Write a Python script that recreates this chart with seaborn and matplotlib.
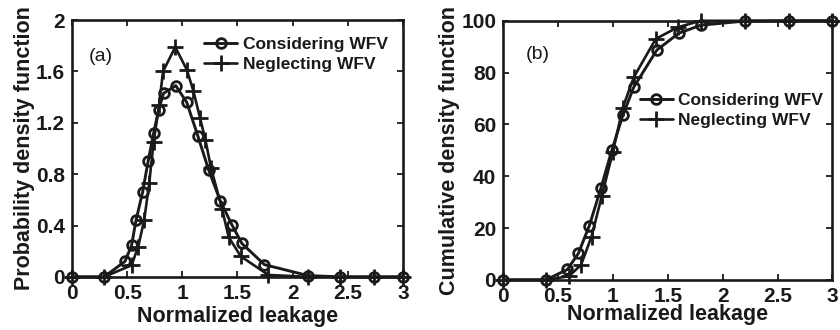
import numpy as np
import pandas as pd
import seaborn as sns
from matplotlib import pyplot as plt

# panel (a): probability density function
pdf_x_cons = [0, 0.29, 0.48, 0.54, 0.58, 0.64, 0.69, 0.74, 0.785, 0.83, 0.94, 1.04,
              1.14, 1.24, 1.345, 1.45, 1.54, 1.745, 2.14, 2.43, 2.74, 3.0]
pdf_y_cons = [0, 0, 0.12, 0.245, 0.44, 0.66, 0.9, 1.12, 1.30, 1.43, 1.49, 1.36,
              1.10, 0.83, 0.59, 0.405, 0.26, 0.095, 0.01, 0, 0, 0]
pdf_x_negl = [0, 0.29, 0.54, 0.60, 0.655, 0.70, 0.74, 0.79, 0.825, 0.936, 1.04, 1.10,
              1.16, 1.21, 1.26, 1.36, 1.42, 1.53, 1.78, 2.14, 2.43, 2.74, 3.0]
pdf_y_negl = [0, 0, 0.09, 0.235, 0.445, 0.73, 1.05, 1.34, 1.60, 1.79, 1.615, 1.45,
              1.24, 1.065, 0.85, 0.53, 0.31, 0.16, 0.015, 0, 0, 0, 0]

# panel (b): cumulative density function
cdf_x_cons = [0, 0.39, 0.585, 0.685, 0.785, 0.89, 0.99, 1.09, 1.19, 1.40, 1.60, 1.80,
              2.20, 2.60, 3.0]
cdf_y_cons = [0, 0, 4, 10.2, 20.9, 35.3, 50, 63.5, 74.4, 88.7, 95.2, 98.3,
              99.9, 100, 100]
cdf_x_negl = [0, 0.39, 0.60, 0.71, 0.805, 0.90, 1.0, 1.09, 1.19, 1.39, 1.59, 1.80,
              2.20, 2.60, 3.0]
cdf_y_negl = [0, 0, 1.4, 5.8, 16.7, 32.5, 49.5, 66.5, 78.2, 93, 97.5, 100,
              100, 100, 100]

x_ticks = [0, 0.5, 1, 1.5, 2, 2.5, 3]
pdf_ticks = [0, 0.4, 0.8, 1.2, 1.6, 2]
cdf_ticks = [0, 20, 40, 60, 80, 100]

ink = '#1a1a1a'


def draw_panel(ax, xc, yc, xn, yn, ylabel, yticks, ymax, tag, tag_pos, leg_pos, xpad):
    cons = pd.DataFrame({'x': xc, 'y': yc})
    negl = pd.DataFrame({'x': xn, 'y': yn})
    sns.lineplot(data=cons, x='x', y='y', ax=ax, color=ink, lw=2.1,
                 marker='o', ms=7, mfc='none', mec=ink, mew=2.0,
                 label='Considering WFV', clip_on=False, zorder=3)
    sns.lineplot(data=negl, x='x', y='y', ax=ax, color=ink, lw=1.9,
                 marker='+', ms=12, mec=ink, mew=2.0,
                 label='Neglecting WFV', clip_on=False, zorder=3)
    ax.set_xlim(0, 3)
    ax.set_ylim(0, ymax)
    ax.set_xticks(x_ticks, ['%g' % v for v in x_ticks],
                  fontsize=15, fontweight='heavy', color=ink)
    ax.set_yticks(yticks, ['%g' % v for v in yticks],
                  fontsize=15, fontweight='heavy', color=ink)
    ax.tick_params(direction='in', top=True, right=True, length=4, width=1.3,
                   color=ink, pad=5)
    for sp in ax.spines.values():
        sp.set_visible(True)
        sp.set_linewidth(1.9)
        sp.set_color(ink)
    ax.set_xlabel('Normalized leakage', fontsize=15.5, fontweight='bold', color=ink, labelpad=xpad)
    ax.set_ylabel(ylabel, fontsize=15.5, fontweight='bold', color=ink, labelpad=1)
    ax.text(tag_pos[0], tag_pos[1], tag, transform=ax.transAxes, fontsize=14,
            fontweight='normal', color=ink, va='center', ha='left')
    ax.legend(loc='upper left', bbox_to_anchor=leg_pos, frameon=False,
              borderpad=0, borderaxespad=0, handlelength=1.9, handletextpad=0.3,
              labelspacing=0.28, prop={'size': 12.5, 'weight': 'bold'},
              labelcolor=ink)


if __name__ == '__main__':
    sns.set_style('ticks')
    plt.rcParams['font.family'] = ['Liberation Sans', 'DejaVu Sans']
    plt.rcParams['font.weight'] = 'bold'
    fig = plt.figure(figsize=(8.4, 3.3), dpi=100)
    ax1 = fig.add_axes([0.0857, 0.161, 0.394, 0.778])
    ax2 = fig.add_axes([0.599, 0.152, 0.392, 0.785])

    draw_panel(ax1, pdf_x_cons, pdf_y_cons, pdf_x_negl, pdf_y_negl,
               'Probability density function', pdf_ticks, 2, '(a)',
               (0.05, 0.86), (0.40, 0.935), 2)
    draw_panel(ax2, cdf_x_cons, cdf_y_cons, cdf_x_negl, cdf_y_negl,
               'Cumulative density function', cdf_ticks, 100, '(b)',
               (0.07, 0.87), (0.415, 0.72), -1)

    fig.savefig('out.png', dpi=100)
